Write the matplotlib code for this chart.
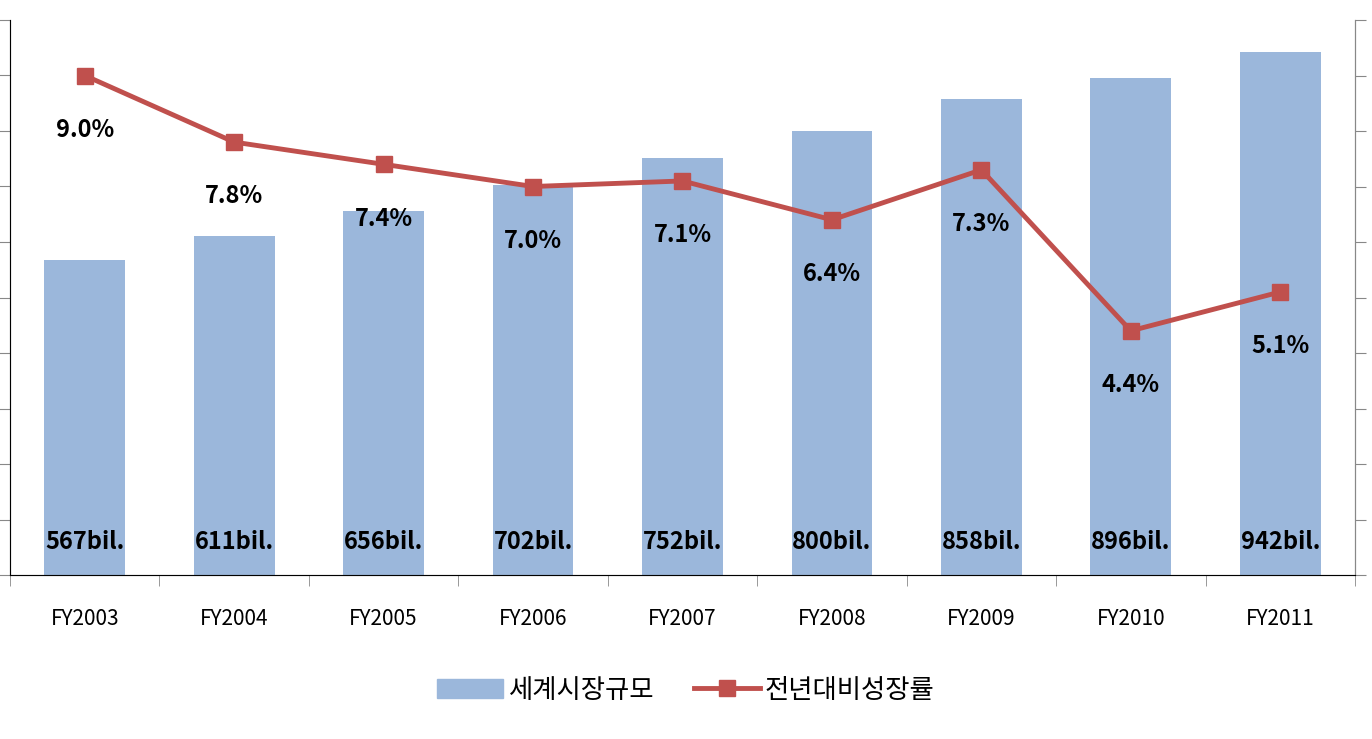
import matplotlib.pyplot as plt
import numpy as np
from matplotlib.patches import Patch
from matplotlib.lines import Line2D

plt.rcParams['font.family'] = ['Noto Sans CJK KR', 'DejaVu Sans']

years = ['FY2003', 'FY2004', 'FY2005', 'FY2006', 'FY2007', 'FY2008', 'FY2009', 'FY2010', 'FY2011']
market = [567, 611, 656, 702, 752, 800, 858, 896, 942]
growth = [9.0, 7.8, 7.4, 7.0, 7.1, 6.4, 7.3, 4.4, 5.1]
market_labels = ['567bil.', '611bil.', '656bil.', '702bil.', '752bil.', '800bil.', '858bil.', '896bil.', '942bil.']

fig = plt.figure(figsize=(13.72, 7.39), dpi=100)
ax = fig.add_axes([10 / 1372, 1 - 575 / 739, 1345 / 1372, 555 / 739])
x = np.arange(len(years))

ax.bar(x, market, width=0.54, color='#9BB7DB', zorder=1)
ax.set_ylim(0, 1000)
ax.set_xlim(-0.5, 8.5)
ax.set_yticks(np.arange(0, 1001, 100))
ax.set_yticklabels([])
ax.set_xticks(x)
ax.set_xticklabels(years, fontsize=15)
ax.set_xticks(np.arange(-0.5, 9, 1), minor=True)
ax.tick_params(axis='x', which='major', length=0, pad=24)
ax.tick_params(axis='x', which='minor', length=8, color='#888888')
ax.tick_params(axis='y', length=8, color='#888888')
ax.spines['top'].set_visible(False)
for s in ['left', 'right', 'bottom']:
    ax.spines[s].set_color('#888888')
for xi, lab in zip(x, market_labels):
    ax.text(xi, 60, lab, ha='center', va='center', fontsize=17, fontweight='bold', zorder=5)

ax2 = ax.twinx()
ax2.set_ylim(0, 10)
ax2.set_yticks(np.arange(0, 11, 1))
ax2.set_yticklabels([])
ax2.tick_params(axis='y', length=8, color='#888888')
ax2.spines['top'].set_visible(False)
ax2.spines['right'].set_color('#888888')
ax2.plot(x, growth, color='#C0504D', lw=3.5, marker='s', markersize=12, zorder=3)
for xi, g in zip(x, growth):
    ax2.text(xi, g - 0.98, f'{g:.1f}%', ha='center', va='center', fontsize=17, fontweight='bold')

handles = [Patch(color='#9BB7DB'), Line2D([], [], color='#C0504D', lw=3.5, marker='s', markersize=12)]
fig.legend(handles, ['세계시장규모', '전년대비성장률'], loc='center', bbox_to_anchor=(0.5, 1 - 690 / 739),
           ncol=2, frameon=False, fontsize=19, handlelength=2.5, handletextpad=0.2, columnspacing=1.5)

fig.savefig('out.png', dpi=100)
